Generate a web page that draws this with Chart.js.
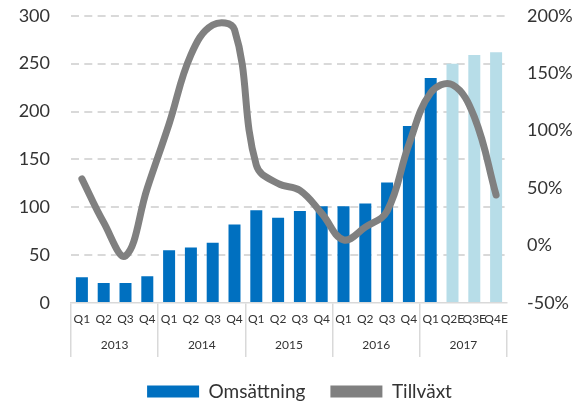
<!DOCTYPE html>
<html><head><meta charset="utf-8">
<script src="https://cdn.jsdelivr.net/npm/chart.js@4"></script>
<style>html,body{margin:0;padding:0;background:#fff}#wrap{width:582px;height:403px}</style>
</head><body><div id="wrap"><canvas id="c" width="582" height="403"></canvas></div>
<script>
const quarters = ['Q1','Q2','Q3','Q4','Q1','Q2','Q3','Q4','Q1','Q2','Q3','Q4','Q1','Q2','Q3','Q4','Q1','Q2E','Q3E','Q4E'];
const years = ['2013','2014','2015','2016','2017'];
const omsattning = [27,21,21,28,55,58,63,82,97,89,96,101,101,104,126,185,235,250,259,262];
const tillvaxt = [58,20,-9,50,106,166,192,188,70,54,48,28,5,16,30,88,133,140,112,44];
const estimated = [false,false,false,false,false,false,false,false,false,false,false,false,false,false,false,false,false,true,true,true];

const BLUE = '#0070C0', LIGHT = '#B7DDE8', GRAY = '#808080', GRID = '#D9D9D9', TXT = '#333333';
const FONT = 'Lato';

new Chart(document.getElementById('c'), {
  data: {
    labels: quarters,
    datasets: [
      { type: 'bar', label: 'Omsättning', data: omsattning, xAxisID: 'x', yAxisID: 'y', order: 1,
        backgroundColor: estimated.map(e => e ? LIGHT : BLUE), barPercentage: 0.55, categoryPercentage: 1 },
      { type: 'line', label: 'Tillväxt', data: tillvaxt, xAxisID: 'x', yAxisID: 'y1', order: 0,
        borderColor: GRAY, backgroundColor: GRAY, borderWidth: 7, pointRadius: 0, tension: 0.4,
        borderCapStyle: 'round', borderJoinStyle: 'round', fill: false }
    ]
  },
  options: {
    responsive: false, animation: false,
    layout: { padding: { top: 0, left: 17, right: 0, bottom: -8 } },
    plugins: {
      tooltip: { enabled: false },
      legend: {
        position: 'bottom',
        labels: {
          font: { family: FONT, size: 19 }, color: TXT, boxWidth: 52, boxHeight: 12, padding: 25,
          generateLabels: (chart) => {
            const items = Chart.defaults.plugins.legend.labels.generateLabels(chart);
            items.sort((a, b) => a.datasetIndex - b.datasetIndex);
            items.forEach(it => {
              const col = it.datasetIndex === 0 ? BLUE : GRAY;
              it.fillStyle = col; it.strokeStyle = col; it.lineWidth = 0;
            });
            return items;
          }
        }
      }
    },
    scales: {
      x: {
        type: 'category', position: 'bottom', weight: 0, offset: true,
        grid: { offset: true, drawOnChartArea: false, drawTicks: true, tickLength: 27,
                color: (c) => (c.index % 4 === 0 ? GRID : 'rgba(0,0,0,0)'), lineWidth: 1.5,
                tickColor: (c) => (c.index % 4 === 0 ? GRID : 'rgba(0,0,0,0)'), tickWidth: 1.5 },
        border: { display: true, color: GRID, width: 1.5 },
        ticks: { font: { family: FONT, size: 12 }, color: TXT, padding: -18, autoSkip: false, maxRotation: 0, minRotation: 0 },
        afterFit: (s) => { s.height = 27; }
      },
      x2: {
        type: 'category', labels: years, position: 'bottom', weight: 1, offset: true,
        grid: { offset: true, drawOnChartArea: false, drawTicks: true, tickLength: 27, color: GRID, tickColor: GRID, lineWidth: 1.5, tickWidth: 1.5 },
        border: { display: false },
        ticks: { font: { family: FONT, size: 12 }, color: TXT, padding: -19, autoSkip: false, maxRotation: 0 },
        afterFit: (s) => { s.height = 27; }
      },
      y: {
        position: 'left', min: 0, max: 300,
        ticks: { stepSize: 50, font: { family: FONT, size: 18 }, color: TXT, padding: 5 },
        grid: { drawTicks: true, tickLength: 16, tickColor: 'rgba(0,0,0,0)',
                color: (c) => (c.tick && c.tick.value === 0 ? 'rgba(0,0,0,0)' : GRID), lineWidth: 2 },
        border: { display: false, dash: [8, 5.3] },
        afterFit: (s) => { s.width = 54; }
      },
      y1: {
        position: 'right', min: -50, max: 200,
        ticks: { stepSize: 50, font: { family: FONT, size: 18 }, color: TXT, padding: 5, callback: (v) => v + '%' },
        grid: { drawOnChartArea: false, drawTicks: true, tickLength: 15, tickColor: 'rgba(0,0,0,0)' },
        border: { display: false },
        afterFit: (s) => { s.width = 75; }
      }
    }
  }
});
</script>
</body></html>
